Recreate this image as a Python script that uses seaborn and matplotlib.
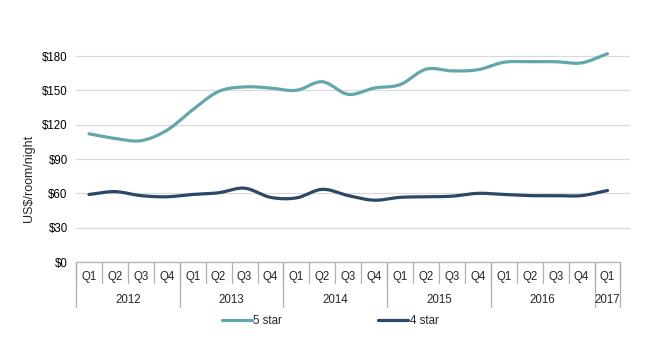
import numpy as np
import pandas as pd
import matplotlib
matplotlib.use("Agg")
import matplotlib.pyplot as plt
import seaborn as sns
from matplotlib.lines import Line2D

quarters = ["Q1", "Q2", "Q3", "Q4"] * 5 + ["Q1"]
years = ["2012", "2013", "2014", "2015", "2016", "2017"]
year_counts = [4, 4, 4, 4, 4, 1]
five_star = [112, 108, 106, 115, 133, 149, 153, 152, 150, 157.5, 146.5, 152, 155, 168.5, 167, 168, 174.5, 175, 175, 174, 182]
four_star = [59, 61.5, 58, 57, 59, 60.5, 64.5, 56.5, 56, 63.5, 58, 54, 56.5, 57, 57.5, 60, 59, 58, 58, 58, 62.5]
series_names = ["5 star", "4 star"]
colors = ["#62a8aa", "#2b4866"]
yticks = [0, 30, 60, 90, 120, 150, 180]


def smooth(y, n=20):
    y = np.asarray(y, float)
    x = np.arange(len(y), dtype=float)
    p = np.concatenate([[2 * y[0] - y[1]], y, [2 * y[-1] - y[-2]]])
    xs, ys = [], []
    for i in range(len(y) - 1):
        p0, p1, p2, p3 = p[i], p[i + 1], p[i + 2], p[i + 3]
        t = np.linspace(0, 1, n, endpoint=False)
        yy = 0.5 * ((2 * p1) + (-p0 + p2) * t + (2 * p0 - 5 * p1 + 4 * p2 - p3) * t ** 2
                    + (-p0 + 3 * p1 - 3 * p2 + p3) * t ** 3)
        xs.append(x[i] + t)
        ys.append(yy)
    xs.append([x[-1]])
    ys.append([y[-1]])
    return np.concatenate(xs), np.concatenate(ys)


frames = []
for name, vals in zip(series_names, [five_star, four_star]):
    sx, sy = smooth(vals)
    frames.append(pd.DataFrame({"x": sx, "y": sy, "series": name}))
df = pd.concat(frames, ignore_index=True)

sns.set_style("white")
plt.rcParams["font.family"] = ["Liberation Sans", "DejaVu Sans"]

W, H = 650, 359
fig = plt.figure(figsize=(W / 100, H / 100), dpi=100)
left, right = 76, 630
bottom = 262
ymax = 190
pxper = 206 / 180
top = bottom - ymax * pxper
ax = fig.add_axes([left / W, (H - bottom) / H, (right - left) / W, (bottom - top) / H])

n = len(quarters)
cat_w = (620.5 - 76) / n
xmax = -0.5 + (right - left) / cat_w

for yv in yticks[1:]:
    ax.axhline(yv, color="#d9d9d9", lw=0.9, zorder=0)

sns.lineplot(data=df, x="x", y="y", hue="series", palette=colors, sort=False,
             estimator=None, lw=2.3, legend=False, ax=ax)

ax.set_xlim(-0.5, xmax)
ax.set_ylim(0, ymax)
ax.set_yticks(yticks)
ax.set_yticklabels([f"${v}" for v in yticks], fontsize=8.3, color="#000000")
ax.tick_params(axis="y", length=0, pad=6)
ax.set_xticks([])
ax.set_xlabel("")
ax.set_ylabel("US$/room/night", fontsize=9)
for s in ax.spines.values():
    s.set_visible(False)
ax.yaxis.set_label_coords(-(76 - 35) / (right - left), (bottom - 178) / (bottom - top))

# category table below the axis
tab_bot = 307
tax = fig.add_axes([left / W, (H - tab_bot) / H, (right - left) / W, (tab_bot - bottom) / H])
tax.set_xlim(-0.5, xmax)
tax.set_ylim(0, 1)
tax.axis("off")
lc = "#b0b0b0"
qrow = (tab_bot - 283) / (tab_bot - bottom)
tax.plot([-0.5, n - 0.5], [1, 1], color=lc, lw=0.9, clip_on=False)
for i, q in enumerate(quarters):
    tax.text(i, 1 - (277 - bottom) / (tab_bot - bottom), q, ha="center", va="center", fontsize=8.3)
for i in range(n + 1):
    tax.plot([i - 0.5, i - 0.5], [qrow, 1], color=lc, lw=0.9, clip_on=False)
pos = 0
for yr, c in zip(years, year_counts):
    tax.plot([pos - 0.5, pos - 0.5], [0, 1], color=lc, lw=0.9, clip_on=False)
    tax.text(pos + (c - 1) / 2, 1 - (300 - bottom) / (tab_bot - bottom), yr, ha="center", va="center", fontsize=8.3)
    pos += c
tax.plot([pos - 0.5, pos - 0.5], [0, 1], color=lc, lw=0.9, clip_on=False)

handles = [Line2D([0], [0], color=c, lw=2.3) for c in colors]
fig.legend(handles, series_names, loc="center", bbox_to_anchor=(330 / W, 1 - 321 / H),
           ncol=2, frameon=False, fontsize=8.3, handlelength=2.6, handletextpad=0.15,
           columnspacing=8.3)

fig.savefig("out.png", dpi=100)
